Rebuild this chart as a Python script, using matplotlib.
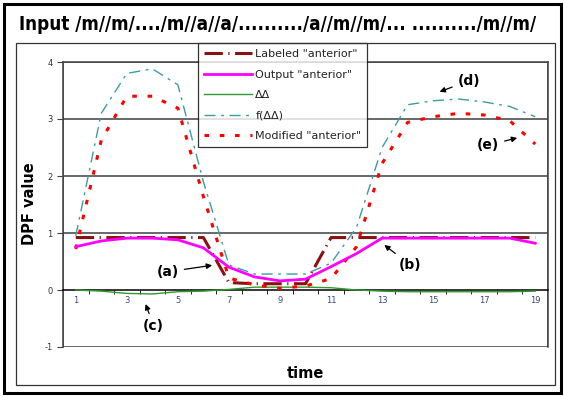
import numpy as np
import matplotlib
matplotlib.use('Agg')
import matplotlib.pyplot as plt
from matplotlib.patches import Rectangle

plt.rcParams['axes.unicode_minus'] = False

# values, time steps 1..19
time = np.arange(1, 20)
labeled = [0.92, 0.92, 0.92, 0.92, 0.92, 0.92, 0.13, 0.11, 0.11, 0.11,
           0.92, 0.92, 0.92, 0.92, 0.92, 0.92, 0.92, 0.92, 0.92]
output = [0.76, 0.86, 0.91, 0.91, 0.88, 0.74, 0.40, 0.23, 0.16, 0.19,
          0.41, 0.64, 0.91, 0.91, 0.91, 0.91, 0.91, 0.91, 0.82]
dd = [0.0, -0.02, -0.06, -0.07, -0.03, -0.02, 0.01, 0.05, 0.05, 0.05,
      0.04, 0.0, -0.02, -0.03, -0.03, -0.03, -0.03, -0.03, -0.02]
f_dd = [0.95, 3.10, 3.80, 3.88, 3.60, 1.90, 0.44, 0.28, 0.28, 0.28,
        0.47, 1.10, 2.50, 3.25, 3.32, 3.35, 3.30, 3.22, 3.04]
modified = [0.72, 2.63, 3.40, 3.40, 3.19, 1.64, 0.21, 0.09, 0.03, 0.07,
            0.20, 0.76, 2.22, 2.94, 3.04, 3.10, 3.07, 2.97, 2.56]

labels = ['Labeled "anterior"', 'Output "anterior"', 'ΔΔ', 'f(ΔΔ)', 'Modified "anterior"']
title = 'Input /m//m/..../m//a//a/........../a//m//m/... ........../m//m/'

W, H = 564, 397
fig = plt.figure(figsize=(W / 100, H / 100), dpi=100)

def fx(px):
    return px / W

def fy(py):
    return 1 - py / H

# outer thick frame and inner chart-area frame
fig.patches.append(Rectangle((fx(4), fy(393)), fx(557), 389 / H, transform=fig.transFigure,
                             fill=False, lw=2.2, ec='black'))
fig.patches.append(Rectangle((fx(16), fy(385)), fx(539), 342 / H, transform=fig.transFigure,
                             fill=False, lw=0.9, ec='#333333'))

ax = fig.add_axes([fx(63), fy(347), fx(485), 285 / H])

ax.plot(time, labeled, color='#8B1010', lw=2.2, ls=(0, (6, 1.8, 0.4, 1.8)), label=labels[0], zorder=3)
ax.plot(time, output, color='#FF00FF', lw=2.0, label=labels[1], zorder=4)
ax.plot(time, dd, color='#2E9B2E', lw=1.0, label=labels[2], zorder=3)
ax.plot(time, f_dd, color='#3A9E9E', lw=1.0, ls=(0, (8, 4, 2, 4)), label=labels[3], zorder=3)
ax.plot(time, modified, color='#FF0000', lw=2.2, ls=(0, (1.5, 3.5)), label=labels[4], zorder=3)

ax.set_xlim(0.5, 19.5)
ax.set_ylim(-1, 4)

# grid lines
for yv in [1, 2, 3]:
    ax.axhline(yv, color='#404040', lw=1.1, zorder=1)

# x axis crosses at 0
for s in ['top', 'right', 'left']:
    ax.spines[s].set_color('#404040')
    ax.spines[s].set_linewidth(1.1)
ax.spines['bottom'].set_position(('data', 0))
ax.spines['bottom'].set_color('black')
ax.spines['bottom'].set_linewidth(1.1)
ax.add_patch(Rectangle((0, 0), 1, 1, transform=ax.transAxes, fill=False,
                       ec='#404040', lw=1.1, zorder=2))

ax.set_xticks(time[::2])
ax.set_xticks(np.arange(1.5, 19, 1), minor=True)
ax.tick_params(axis='x', which='major', length=0, labelsize=6, labelcolor='#3A4A7A', pad=4)
ax.tick_params(axis='x', which='minor', length=3, direction='out', color='black')
ax.set_yticks([-1, 0, 1, 2, 3, 4])
ax.tick_params(axis='y', length=4, direction='out', labelsize=6, labelcolor='#333333', color='#404040')

fig.text(fx(29), fy(204), 'DPF value', rotation=90, ha='center', va='center',
         fontsize=10.5, fontweight='bold')
fig.text(fx(305), fy(374), 'time', ha='center', va='center', fontsize=10.5, fontweight='bold')

# title: narrow bold, shrink until it fits the width of the reference
tt = fig.text(fx(19), fy(25), title, ha='left', va='center', fontsize=13.5, fontweight='bold',
              fontstretch='condensed', family=['DejaVu Sans'])
r = fig.canvas.get_renderer()
w = tt.get_window_extent(r).width
if w > 527:
    tt.set_fontsize(13.5 * 527 / w)

leg = ax.legend(loc='upper left', bbox_to_anchor=(fx(198), fy(43)), bbox_transform=fig.transFigure,
                fontsize=8, frameon=True, fancybox=False, borderaxespad=0, borderpad=0.55,
                handlelength=4.3, labelspacing=0.95, handletextpad=0.3)
leg.get_frame().set_edgecolor('black')
leg.get_frame().set_linewidth(0.9)
for t in leg.get_texts():
    t.set_color('#222222')

arrow = dict(arrowstyle='-|>', color='black', lw=0.9, mutation_scale=8)
ax.annotate('(a)', xy=(6.45, 0.44), xytext=(4.6, 0.32), fontsize=10, fontweight='bold',
            ha='center', va='center', arrowprops=arrow)
ax.annotate('(b)', xy=(13.0, 0.82), xytext=(14.1, 0.44), fontsize=10, fontweight='bold',
            ha='center', va='center', arrowprops=arrow)
ax.annotate('(c)', xy=(3.7, -0.2), xytext=(4.05, -0.63), fontsize=10, fontweight='bold',
            ha='center', va='center', arrowprops=arrow)
ax.annotate('(d)', xy=(15.15, 3.46), xytext=(16.4, 3.67), fontsize=10, fontweight='bold',
            ha='center', va='center', arrowprops=arrow)
ax.annotate('(e)', xy=(18.4, 2.68), xytext=(17.15, 2.54), fontsize=10, fontweight='bold',
            ha='center', va='center', arrowprops=arrow)

fig.savefig('out.png', dpi=100)
